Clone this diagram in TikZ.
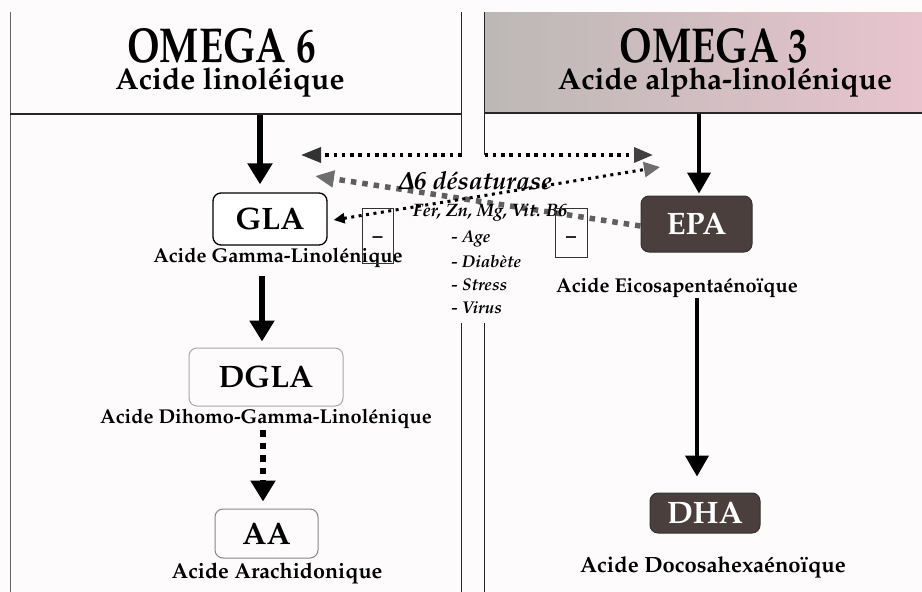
\documentclass[tikz,border=0pt]{standalone}
\usepackage[T1]{fontenc}
\usepackage[slantedGreek]{mathpazo}
\usepackage{graphicx}
\usetikzlibrary{arrows.meta,calc}
\definecolor{darkboxc}{RGB}{74,63,61}
\definecolor{grayarr}{RGB}{110,110,110}
\definecolor{graydash}{RGB}{95,95,95}
\definecolor{hdA}{RGB}{188,184,182}
\definecolor{hdB}{RGB}{206,208,206}
\definecolor{hdC}{RGB}{232,196,206}
\definecolor{paper}{RGB}{253,251,251}
\definecolor{dglaedge}{RGB}{175,165,165}
\definecolor{aaedge}{RGB}{140,132,132}
\newcommand{\hsq}[1]{\scalebox{0.8}[1]{#1}}
\begin{document}
\begin{tikzpicture}[x=1pt,y=-1pt,
  hdbig/.style={font=\fontsize{49}{50}\selectfont\bfseries, inner sep=0pt},
  hdsub/.style={font=\fontsize{30}{31}\selectfont\bfseries, inner sep=0pt},
  lab/.style={font=\fontsize{20}{21}\selectfont\bfseries, inner sep=0pt},
  itl/.style={font=\fontsize{17}{18}\selectfont\bfseries\itshape, inner sep=0pt},
  boxtxt/.style={font=\fontsize{31}{32}\selectfont\bfseries, rounded corners=8pt, inner sep=0pt},
  glabox/.style={boxtxt, draw=black, line width=1.3pt, fill=white},
  dglabox/.style={boxtxt, draw=dglaedge, line width=1pt},
  aabox/.style={boxtxt, draw=aaedge, line width=1pt},
  epabox/.style={boxtxt, fill=darkboxc, draw=black!80, line width=1pt, text=white},
  minusbox/.style={draw=black!80, line width=0.8pt, inner sep=0pt},
  frameb/.style={line width=1.5pt, black!85},
  solidL/.style={line width=6pt, -{Triangle[length=21pt,width=24pt]}},
  solidR/.style={line width=4pt, -{Triangle[length=21pt,width=23pt]}},
  dashL/.style={line width=6.5pt, dash pattern=on 6.5pt off 6pt, -{Triangle[length=21pt,width=24pt]}},
  dotline/.style={line width=3.5pt, dash pattern=on 3.5pt off 4.8pt},
  dotdiag/.style={line width=3pt, dash pattern=on 3pt off 4.5pt},
  grayline/.style={line width=5.5pt, graydash, dash pattern=on 5.5pt off 6pt}
]
\useasboundingbox (0,0) rectangle (922,592);
\fill[paper] (0,0) rectangle (922,592);
% header backgrounds and frames
\shade[left color=hdA, middle color=hdB, right color=hdC] (484.5,12) rectangle (922,113);
\draw[line width=0.8pt, black!60] (10,12) -- (10,592);
\draw[frameb] (10,114) -- (461.5,114);
\draw[frameb] (461.5,12) -- (461.5,155);
\draw[frameb] (461.5,323) -- (461.5,592);
\draw[frameb] (484.5,12) -- (484.5,155);
\draw[frameb] (484.5,113) -- (922,113);
\draw[frameb] (484.5,323) -- (484.5,592);

% headers
\node[hdbig, anchor=base] (om6) at (221.5,62) {\hsq{OMEGA 6}};
\node[hdsub, anchor=base] (ln) at (230,89) {Acide linol\'eique};
\node[hdbig, anchor=base] (om3) at (714,62) {\hsq{OMEGA 3}};
\node[hdsub, anchor=base] (aln) at (725,89) {Acide alpha-linol\'enique};

% boxes
\node[glabox, minimum width=114pt, minimum height=52pt] (gla) at (270,219) {GLA};
\node[dglabox, minimum width=154pt, minimum height=58pt] (dgla) at (266,377) {DGLA};
\node[aabox, minimum width=103pt, minimum height=49pt] (aa) at (266.5,533.5) {AA};
\node[epabox, minimum width=111pt, minimum height=56pt] (epa) at (696.5,224) {EPA};
\node[epabox, minimum width=110pt, minimum height=40pt] (dha) at (705,513) {DHA};

% labels
\node[lab, anchor=base] (glal) at (278,262) {Acide Gamma-Linol\'enique};
\node[lab, anchor=base] (dglal) at (266,423) {Acide Dihomo-Gamma-Linol\'enique};
\node[lab, font=\fontsize{21.5}{22}\selectfont\bfseries, anchor=base] (aal) at (277,578) {Acide Arachidonique};
\node[lab, anchor=base] (epal) at (677,292) {Acide Eicosapenta\'eno\"{\i}que};
\node[lab, font=\fontsize{22}{23}\selectfont\bfseries, anchor=base] (dhal) at (713,572) {Acide Docosahexa\'eno\"{\i}que};

% main arrows
\coordinate (s1) at (260,114.8);
\draw[solidL, shorten >=8pt] (s1) -- (s1 |- gla.north);
\coordinate (s2) at (262,276);
\draw[solidL, shorten >=6pt] (s2) -- (s2 |- dgla.north);
\coordinate (s3) at (263,430);
\draw[dashL, shorten >=7pt] (s3) -- (s3 |- aa.north);
\coordinate (s4) at (699,113.8);
\draw[solidR, shorten >=2pt] (s4) -- (s4 |- epa.north);
\coordinate (s5) at (697,298);
\draw[solidR, shorten >=16pt] (s5) -- (s5 |- dha.north);

% top dotted double arrow across the gutter
\coordinate (g1) at (461.5,155);
\coordinate (g2) at (484.5,155);
\coordinate (t1) at (301,155);
\coordinate (t2) at (653,155);
\draw[dotline, -{Triangle[length=20pt,width=15pt,color=black!80]}] (g1) -- (t1);
\draw[dotline, -{Triangle[length=19pt,width=15pt,color=black!75]}] (g2) -- (t2);

% crossing lines of the desaturase
\coordinate (t3) at (315,176);
\coordinate (t4) at (660,167);
\draw[grayline, -{Triangle[length=19pt,width=16pt,color=grayarr]}] ($(epa.west)+(0,2)$) -- (t3);
\draw[dotdiag, {Triangle[length=11pt,width=10pt,color=black]}-{Triangle[length=16pt,width=15pt,color=grayarr]}] ($(gla.east)+(6,1)$) -- (t4);

% enzyme and cofactors
\node[font=\fontsize{25}{26}\selectfont\bfseries\itshape, inner sep=0pt, anchor=base] (d6) at (475,189) {{\boldmath$\Delta$}6 d\'esaturase};
\node[itl, font=\fontsize{18}{19}\selectfont\bfseries\itshape, anchor=base] (cof) at (490,216) {Fer, Zn, Mg, Vit. B6};
\node[itl, anchor=base west] (i1) at (451,242) {- Age};
\node[itl, anchor=base west] (i2) at (451,267) {- Diab\`ete};
\node[itl, anchor=base west] (i3) at (451,290) {- Stress};
\node[itl, anchor=base west] (i4) at (451,313) {- Virus};

% inhibition boxes
\node[minusbox, minimum width=31pt, minimum height=55pt] (mb1) at (377.5,235.5) {};
\node[lab, anchor=base] (m1) at (377.5,242) {--};
\node[minusbox, minimum width=32pt, minimum height=49pt] (mb2) at (571,232.5) {};
\node[lab, anchor=base] (m2) at (571,242) {--};
\end{tikzpicture}
\end{document}
